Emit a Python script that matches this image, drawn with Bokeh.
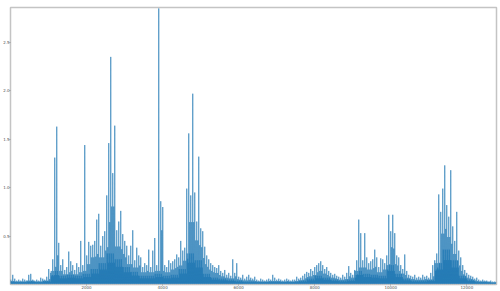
from bokeh.plotting import figure
from bokeh.embed import file_html
from bokeh.resources import INLINE
from bokeh.models import Label, FixedTicker, Range1d

# ---- data (values in units of 1e6) ----
# tallest spike per column (243 columns spanning index 0..12780)
peak = [
    0.05, 0.10, 0.06, 0.04, 0.05, 0.04, 0.06, 0.05, 0.04, 0.10,
    0.11, 0.05, 0.04, 0.05, 0.04, 0.07, 0.06, 0.05, 0.08, 0.16,
    0.12, 0.26, 1.31, 1.63, 0.43, 0.20, 0.26, 0.15, 0.18, 0.34,
    0.24, 0.20, 0.15, 0.22, 0.18, 0.45, 0.20, 1.44, 0.30, 0.44,
    0.40, 0.41, 0.45, 0.67, 0.73, 0.40, 0.50, 0.55, 0.92, 1.46,
    2.35, 1.15, 1.64, 0.56, 0.65, 0.76, 0.52, 0.45, 0.40, 0.30,
    0.40, 0.56, 0.25, 0.38, 0.30, 0.28, 0.18, 0.22, 0.20, 0.36,
    0.18, 0.35, 0.48, 0.20, 2.85, 0.86, 0.80, 0.20, 0.18, 0.25,
    0.22, 0.24, 0.26, 0.31, 0.28, 0.45, 0.35, 0.38, 0.99, 1.56,
    0.92, 1.97, 0.95, 0.65, 1.32, 0.58, 0.55, 0.39, 0.30, 0.26,
    0.22, 0.20, 0.18, 0.17, 0.20, 0.14, 0.12, 0.15, 0.10, 0.12,
    0.09, 0.26, 0.12, 0.22, 0.08, 0.07, 0.10, 0.06, 0.08, 0.10,
    0.07, 0.06, 0.08, 0.05, 0.04, 0.06, 0.05, 0.04, 0.05, 0.06,
    0.05, 0.10, 0.07, 0.05, 0.06, 0.05, 0.04, 0.05, 0.06, 0.05,
    0.04, 0.05, 0.05, 0.08, 0.06, 0.07, 0.09, 0.11, 0.13, 0.12,
    0.16, 0.14, 0.18, 0.20, 0.22, 0.24, 0.20, 0.16, 0.18, 0.14,
    0.12, 0.10, 0.11, 0.09, 0.08, 0.07, 0.10, 0.08, 0.12, 0.19,
    0.12, 0.10, 0.15, 0.25, 0.67, 0.53, 0.25, 0.53, 0.28, 0.22,
    0.24, 0.26, 0.36, 0.28, 0.18, 0.27, 0.26, 0.22, 0.30, 0.72,
    0.55, 0.72, 0.53, 0.30, 0.28, 0.20, 0.16, 0.31, 0.14, 0.10,
    0.09, 0.08, 0.10, 0.07, 0.08, 0.07, 0.10, 0.08, 0.09, 0.07,
    0.12, 0.20, 0.25, 0.32, 0.93, 0.75, 0.99, 1.23, 0.82, 0.70,
    1.18, 0.60, 0.45, 0.75, 0.35, 0.28, 0.20, 0.15, 0.12, 0.10,
    0.09, 0.08, 0.06, 0.07, 0.05, 0.04, 0.05, 0.04, 0.04, 0.03,
    0.04, 0.03, 0.03,
]
# typical dense level per block of 4 columns
body = [
    0.03, 0.03, 0.04, 0.03, 0.04, 0.14, 0.09, 0.10, 0.09, 0.11,
    0.16, 0.22, 0.32, 0.26, 0.18, 0.13, 0.09, 0.09, 0.11, 0.09,
    0.10, 0.16, 0.32, 0.25, 0.11, 0.07, 0.06, 0.05, 0.04, 0.03,
    0.03, 0.03, 0.03, 0.03, 0.03, 0.03, 0.04, 0.06, 0.09, 0.07,
    0.05, 0.04, 0.05, 0.14, 0.11, 0.10, 0.09, 0.20, 0.11, 0.06,
    0.04, 0.04, 0.05, 0.22, 0.36, 0.25, 0.09, 0.05, 0.03, 0.03,
    0.02,
]
x_end = 12780
x_ticks = [2000, 4000, 6000, 8000, 10000, 12000]
y_ticks = [0.5, 1.0, 1.5, 2.0, 2.5]
scale = 1e6
y_top = 2.86

# ---- build the trace: per column a spike plus strokes at the body level ----
n = len(peak)
step = x_end / n
xs, ys = [], []
for c in range(n):
    b = body[min(c // 4, len(body) - 1)]
    left = peak[c - 1] if c > 0 else peak[c]
    right = peak[c + 1] if c < n - 1 else peak[c]
    second = min(left, right, peak[c]) * 0.7
    vals = [0.004, peak[c], 0.012, b, 0.006, max(second, b * 0.5), 0.015, b * 0.7]
    for k, v in enumerate(vals):
        xs.append(c * step + k * step / len(vals))
        ys.append(v * scale)

p = figure(width=500, height=291, output_backend="svg", toolbar_location=None,
           x_range=Range1d(0, x_end), y_range=Range1d(0, y_top * scale),
           min_border_left=0, min_border_right=4, min_border_top=7, min_border_bottom=0)
p.line(xs, ys, line_color="#1f77b4", line_width=0.6)

p.xgrid.visible = False
p.ygrid.visible = False
p.outline_line_color = "#c4c4c4"
p.outline_line_width = 1.5
p.background_fill_color = "white"
p.border_fill_color = "white"

p.xaxis.ticker = FixedTicker(ticks=x_ticks)
p.yaxis.ticker = FixedTicker(ticks=[t * scale for t in y_ticks])
p.yaxis.major_label_overrides = {t * scale: f"{t:.1f}" for t in y_ticks}
p.xaxis.major_label_overrides = {t: str(t) for t in x_ticks}
for ax in (p.xaxis, p.yaxis):
    ax.axis_line_color = None
    ax.major_tick_line_color = "#999999"
    ax.major_tick_out = 1
    ax.major_tick_in = 0
    ax.minor_tick_line_color = None
    ax.major_label_text_font_size = "4px"
    ax.major_label_text_color = "#555555"
    ax.major_label_standoff = 0
    ax.major_label_text_font = "DejaVu Sans"

p.add_layout(Label(x=0, y=y_top * scale, y_offset=1, text="1e6",
                   text_font_size="4px", text_color="#555555",
                   text_font="DejaVu Sans"))

open("out.html", "w").write(file_html(p, INLINE))
